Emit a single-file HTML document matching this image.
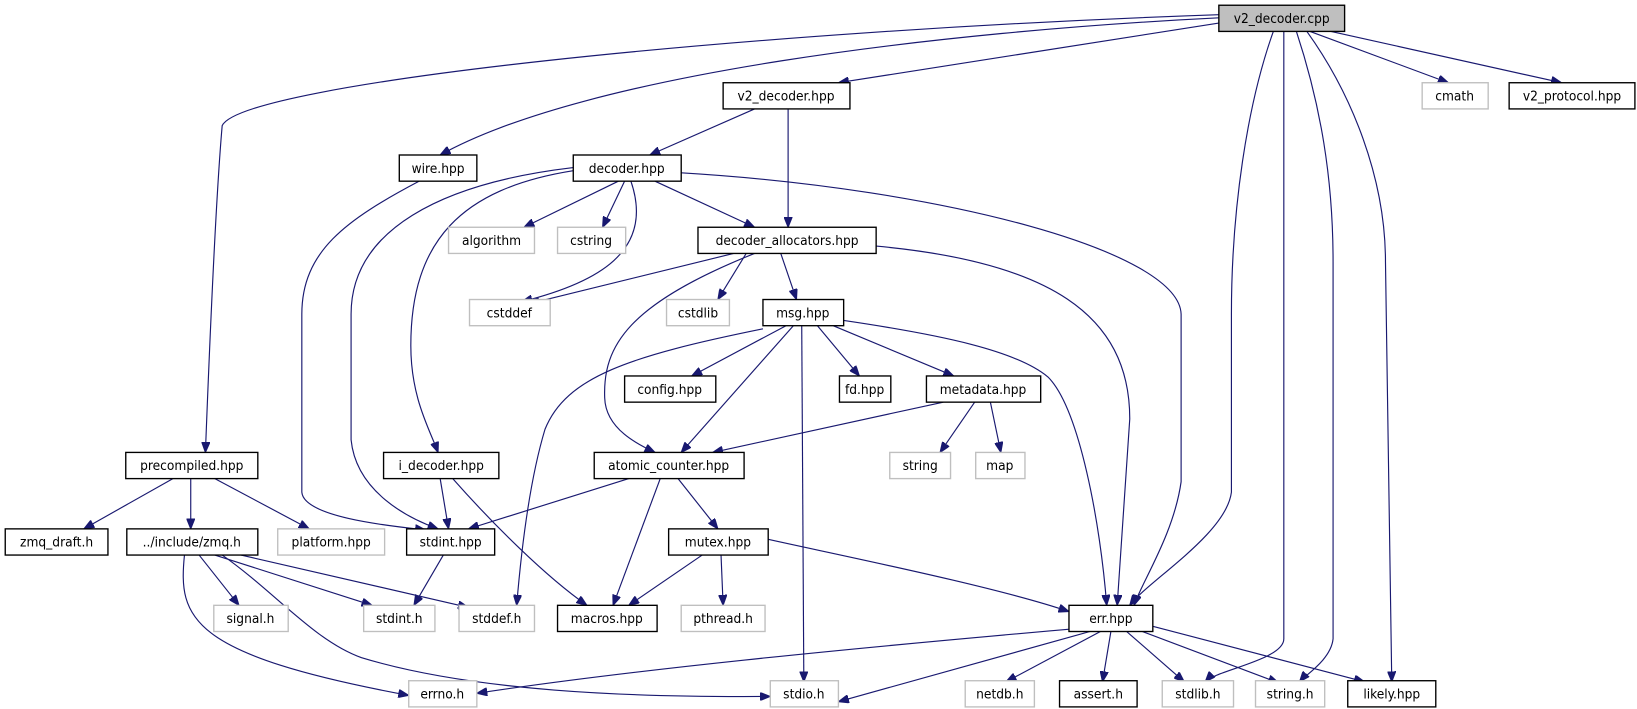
<!DOCTYPE html>
<html><head><meta charset="utf-8"><style>
html,body{margin:0;padding:0;background:#fff}
svg{display:block}
text{font-family:"DejaVu Sans Condensed","DejaVu Sans","Liberation Sans",sans-serif;font-size:13px;text-anchor:middle;fill:#000}
.b{fill:#fff;stroke:#000;stroke-width:1.3}
.g{fill:#fff;stroke:#bfbfbf;stroke-width:1.3}
.e{fill:none;stroke:#191970;stroke-width:1.1;marker-end:url(#a)}
</style></head><body>
<svg width="1637" height="709" viewBox="0 0 1562 677" preserveAspectRatio="none" xmlns="http://www.w3.org/2000/svg">
<defs><marker id="a" viewBox="0 0 10 8" refX="10" refY="4" markerWidth="10" markerHeight="8" markerUnits="userSpaceOnUse" orient="auto"><path d="M0,0 L10,4 L0,8 z" fill="#191970" stroke="#191970"/></marker></defs>
<g>
<path class="e" d="M1163,14 C700,30 230,80 212,120 C205,200 198,380 196,432"/>
<path class="e" d="M1163,17 C900,30 560,70 420,148"/>
<path class="e" d="M1163,22 L800,79"/>
<path class="e" d="M1215,30 C1190,100 1175,200 1175,300 L1175,470 C1170,510 1095,555 1078,578"/>
<path class="e" d="M1225,30 L1225,610 C1225,630 1160,640 1150,651"/>
<path class="e" d="M1237,30 C1260,100 1272,170 1272,250 L1272,610 C1270,630 1245,645 1240,651"/>
<path class="e" d="M1247,30 C1290,90 1322,170 1322,250 L1328,651"/>
<path class="e" d="M1250,30 L1382,79"/>
<path class="e" d="M1270,30 L1490,79"/>
<path class="e" d="M720,104 L620,148"/>
<path class="e" d="M752,104 L752,217"/>
<path class="e" d="M400,173 C330,210 288,240 288,300 L288,470 C290,495 380,503 406,506"/>
<path class="e" d="M590,173 L500,217"/>
<path class="e" d="M596,173 L575,217"/>
<path class="e" d="M602,173 C625,240 570,270 498,288"/>
<path class="e" d="M625,173 L720,217"/>
<path class="e" d="M650,165 C900,180 1125,240 1127,300 L1127,460 C1120,510 1090,555 1082,578"/>
<path class="e" d="M547,160 C420,175 335,220 335,300 L335,420 C340,470 390,495 418,505"/>
<path class="e" d="M547,163 C440,180 392,230 392,330 C392,380 410,410 418,432"/>
<path class="e" d="M700,242 L505,290"/>
<path class="e" d="M712,242 L685,286"/>
<path class="e" d="M745,242 L760,286"/>
<path class="e" d="M720,242 C600,290 575,330 577,380 C578,410 610,425 625,432"/>
<path class="e" d="M836,235 C1000,250 1078,300 1078,400 L1066,578"/>
<path class="e" d="M750,311 L660,359"/>
<path class="e" d="M780,311 L820,359"/>
<path class="e" d="M795,311 L910,359"/>
<path class="e" d="M757,311 L650,432"/>
<path class="e" d="M765,311 L767,651"/>
<path class="e" d="M728,314 C600,340 540,360 520,410 C505,460 497,530 493,578"/>
<path class="e" d="M805,306 C900,320 970,335 1000,360 C1030,390 1050,500 1056,578"/>
<path class="e" d="M900,384 L680,432"/>
<path class="e" d="M930,384 L897,432"/>
<path class="e" d="M945,384 L955,432"/>
<path class="e" d="M600,457 L447,505"/>
<path class="e" d="M630,457 L585,578"/>
<path class="e" d="M647,457 L685,505"/>
<path class="e" d="M165,457 L80,505"/>
<path class="e" d="M182,457 L182,505"/>
<path class="e" d="M205,457 L295,505"/>
<path class="e" d="M420,457 L428,505"/>
<path class="e" d="M432,457 C470,500 520,550 560,578"/>
<path class="e" d="M423,530 L395,578"/>
<path class="e" d="M190,530 L228,578"/>
<path class="e" d="M205,530 L355,578"/>
<path class="e" d="M230,530 L447,580"/>
<path class="e" d="M176,530 C170,590 180,625 390,664"/>
<path class="e" d="M212,530 C262,565 300,612 345,628 C450,660 600,666 735,665"/>
<path class="e" d="M670,530 L600,578"/>
<path class="e" d="M688,530 L690,578"/>
<path class="e" d="M733,515 C800,530 950,560 1020,584"/>
<path class="e" d="M1030,600 C800,620 600,640 455,662"/>
<path class="e" d="M1040,603 L800,670"/>
<path class="e" d="M1050,603 L960,651"/>
<path class="e" d="M1060,603 L1052,651"/>
<path class="e" d="M1075,603 L1130,651"/>
<path class="e" d="M1090,603 L1220,652"/>
<path class="e" d="M1100,598 L1302,651"/>
</g>
<g>
<rect x="1163" y="5" width="120" height="25" fill="#bfbfbf" stroke="#000" stroke-width="1.3"/><text x="1223" y="22">v2_decoder.cpp</text>
<rect class="b" x="690" y="79" width="121" height="25"/><text x="750" y="96">v2_decoder.hpp</text>
<rect class="g" x="1357" y="79" width="63" height="25"/><text x="1388" y="96">cmath</text>
<rect class="b" x="1440" y="79" width="120" height="25"/><text x="1500" y="96">v2_protocol.hpp</text>
<rect class="b" x="381" y="148" width="74" height="25"/><text x="418" y="165">wire.hpp</text>
<rect class="b" x="547" y="148" width="103" height="25"/><text x="598" y="165">decoder.hpp</text>
<rect class="g" x="428" y="217" width="82" height="25"/><text x="469" y="234">algorithm</text>
<rect class="g" x="532" y="217" width="65" height="25"/><text x="564" y="234">cstring</text>
<rect class="b" x="666" y="217" width="170" height="25"/><text x="751" y="234">decoder_allocators.hpp</text>
<rect class="g" x="448" y="286" width="77" height="25"/><text x="486" y="303">cstddef</text>
<rect class="g" x="636" y="286" width="60" height="25"/><text x="666" y="303">cstdlib</text>
<rect class="b" x="728" y="286" width="77" height="25"/><text x="766" y="303">msg.hpp</text>
<rect class="b" x="596" y="359" width="87" height="25"/><text x="639" y="376">config.hpp</text>
<rect class="b" x="801" y="359" width="49" height="25"/><text x="825" y="376">fd.hpp</text>
<rect class="b" x="884" y="359" width="109" height="25"/><text x="938" y="376">metadata.hpp</text>
<rect class="g" x="849" y="432" width="58" height="25"/><text x="878" y="449">string</text>
<rect class="g" x="931" y="432" width="47" height="25"/><text x="954" y="449">map</text>
<rect class="b" x="120" y="432" width="126" height="25"/><text x="183" y="449">precompiled.hpp</text>
<rect class="b" x="366" y="432" width="110" height="25"/><text x="421" y="449">i_decoder.hpp</text>
<rect class="b" x="567" y="432" width="143" height="25"/><text x="638" y="449">atomic_counter.hpp</text>
<rect class="b" x="5" y="505" width="98" height="25"/><text x="54" y="522">zmq_draft.h</text>
<rect class="b" x="121" y="505" width="125" height="25"/><text x="183" y="522">../include/zmq.h</text>
<rect class="g" x="265" y="505" width="102" height="25"/><text x="316" y="522">platform.hpp</text>
<rect class="b" x="388" y="505" width="84" height="25"/><text x="430" y="522">stdint.hpp</text>
<rect class="b" x="638" y="505" width="95" height="25"/><text x="685" y="522">mutex.hpp</text>
<rect class="g" x="204" y="578" width="71" height="25"/><text x="239" y="595">signal.h</text>
<rect class="g" x="347" y="578" width="68" height="25"/><text x="381" y="595">stdint.h</text>
<rect class="g" x="438" y="578" width="72" height="25"/><text x="474" y="595">stddef.h</text>
<rect class="b" x="532" y="578" width="95" height="25"/><text x="579" y="595">macros.hpp</text>
<rect class="g" x="650" y="578" width="80" height="25"/><text x="690" y="595">pthread.h</text>
<rect class="b" x="1020" y="578" width="80" height="25"/><text x="1060" y="595">err.hpp</text>
<rect class="g" x="390" y="650" width="65" height="25"/><text x="422" y="667">errno.h</text>
<rect class="g" x="735" y="650" width="65" height="25"/><text x="767" y="667">stdio.h</text>
<rect class="g" x="921" y="650" width="66" height="25"/><text x="954" y="667">netdb.h</text>
<rect class="b" x="1011" y="650" width="74" height="25"/><text x="1048" y="667">assert.h</text>
<rect class="g" x="1109" y="650" width="68" height="25"/><text x="1143" y="667">stdlib.h</text>
<rect class="g" x="1198" y="650" width="66" height="25"/><text x="1231" y="667">string.h</text>
<rect class="b" x="1286" y="650" width="84" height="25"/><text x="1328" y="667">likely.hpp</text>
</g>
</svg>
</body></html>
